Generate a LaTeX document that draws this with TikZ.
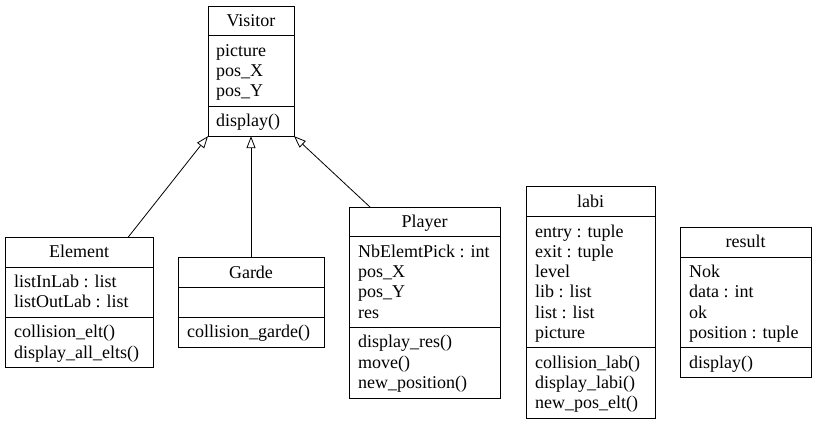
\documentclass[tikz,border=0pt]{standalone}
\usepackage{fontspec}
\setmainfont{Liberation Serif}
\usetikzlibrary{arrows.meta}
\begin{document}
\begin{tikzpicture}[x=1pt,y=-1pt,
  box/.style={draw, line width=0.9pt, anchor=north west, inner sep=0pt, outer sep=0pt},
  sepline/.style={line width=0.9pt},
  txt/.style={anchor=base west, inner sep=0pt, font=\fontsize{18}{20.25}\selectfont},
  ttl/.style={anchor=base, inner sep=0pt, font=\fontsize{18}{20.25}\selectfont},
  inherit/.style={line width=0.8pt, -{Triangle[open, length=12pt, width=9pt]}}]
\useasboundingbox (0,0) rectangle (816,425);

% ---------- Visitor ----------
\node[box, minimum width=86pt, minimum height=130.17pt] (V) at (208,6) {};
\draw[sepline] (208,35.89) -- (294,35.89);
\draw[sepline] (208,106.28) -- (294,106.28);
\node[ttl] (Vt) at (251,26.4) {Visitor};
\node[txt] (Va1) at (216,56.29) {picture};
\node[txt] (Va2) at (216,76.54) {pos\_X};
\node[txt] (Va3) at (216,96.79) {pos\_Y};
\node[txt] (Vm1) at (216,126.68) {display()};

% ---------- Element ----------
\node[box, minimum width=148pt, minimum height=130.17pt] (E) at (5,237.41) {};
\draw[sepline] (5,267.30) -- (153,267.30);
\draw[sepline] (5,317.44) -- (153,317.44);
\node[ttl] (Et) at (79,257.81) {Element};
\node[txt] (Ea1) at (14,287.70) {listInLab : list};
\node[txt] (Ea2) at (14,307.95) {listOutLab : list};
\node[txt] (Em1) at (14,337.84) {collision\_elt()};
\node[txt] (Em2) at (14,358.09) {display\_all\_elts()};

% ---------- Garde ----------
\node[box, minimum width=146pt, minimum height=89.67pt] (G) at (178,257.66) {};
\draw[sepline] (178,287.55) -- (324,287.55);
\draw[sepline] (178,317.44) -- (324,317.44);
\node[ttl] (Gt) at (251,278.06) {Garde};
\node[txt] (Gm1) at (187,337.84) {collision\_garde()};

% ---------- Player ----------
\node[box, minimum width=151pt, minimum height=190.92pt] (P) at (349,207.04) {};
\draw[sepline] (349,236.93) -- (500,236.93);
\draw[sepline] (349,327.57) -- (500,327.57);
\node[ttl] (Pt) at (424.5,227.44) {Player};
\node[txt] (Pa1) at (358,257.33) {NbElemtPick : int};
\node[txt] (Pa2) at (358,277.58) {pos\_X};
\node[txt] (Pa3) at (358,297.83) {pos\_Y};
\node[txt] (Pa4) at (358,318.08) {res};
\node[txt] (Pm1) at (358,347.97) {display\_res()};
\node[txt] (Pm2) at (358,368.22) {move()};
\node[txt] (Pm3) at (358,388.47) {new\_position()};

% ---------- labi ----------
\node[box, minimum width=129pt, minimum height=231.42pt] (L) at (526,186.79) {};
\draw[sepline] (526,216.68) -- (655,216.68);
\draw[sepline] (526,347.82) -- (655,347.82);
\node[ttl] (Lt) at (590.5,207.19) {labi};
\node[txt] (La1) at (535,237.08) {entry : tuple};
\node[txt] (La2) at (535,257.33) {exit : tuple};
\node[txt] (La3) at (535,277.58) {level};
\node[txt] (La4) at (535,297.83) {lib : list};
\node[txt] (La5) at (535,318.08) {list : list};
\node[txt] (La6) at (535,338.33) {picture};
\node[txt] (Lm1) at (535,368.22) {collision\_lab()};
\node[txt] (Lm2) at (535,388.47) {display\_labi()};
\node[txt] (Lm3) at (535,408.72) {new\_pos\_elt()};

% ---------- result ----------
\node[box, minimum width=131pt, minimum height=150.42pt] (R) at (680,227.29) {};
\draw[sepline] (680,257.18) -- (811,257.18);
\draw[sepline] (680,347.82) -- (811,347.82);
\node[ttl] (Rt) at (745.5,247.69) {result};
\node[txt] (Ra1) at (689,277.58) {Nok};
\node[txt] (Ra2) at (689,297.83) {data : int};
\node[txt] (Ra3) at (689,318.08) {ok};
\node[txt] (Ra4) at (689,338.33) {position : tuple};
\node[txt] (Rm1) at (689,368.22) {display()};

% ---------- inheritance ----------
\draw[inherit] ([xshift=49pt]E.north) -- (V.south west);
\draw[inherit] (G.north) -- (V.south);
\draw[inherit] ([xshift=-54.5pt]P.north) -- (V.south east);
\end{tikzpicture}
\end{document}
